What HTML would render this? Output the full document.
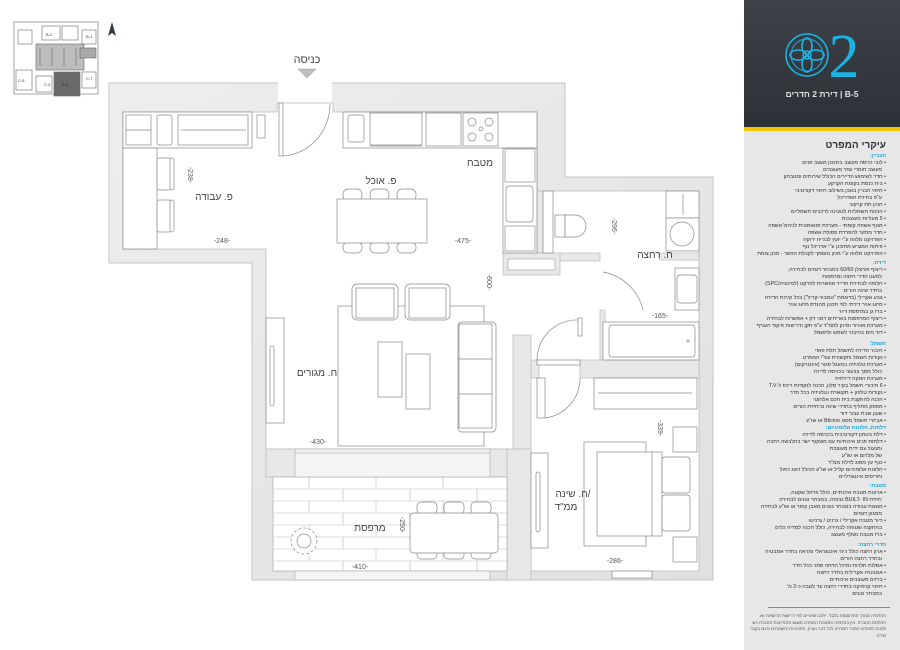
<!DOCTYPE html>
<html><head><meta charset="utf-8">
<style>
html,body{margin:0;padding:0;background:#fff;}
body{width:900px;height:650px;position:relative;overflow:hidden;font-family:"Liberation Sans","Noto Sans CJK SC",sans-serif;}
#panel{position:absolute;left:744px;top:0;width:156px;height:650px;background:#e7e7e8;}
#hdr{position:absolute;left:0;top:0;width:156px;height:127px;background:linear-gradient(180deg,#3d4248 0%,#2c3136 100%);}
#ybar{position:absolute;left:0;top:127px;width:156px;height:4px;background:#f4c400;}
.sec{position:absolute;right:14px;width:140px;direction:rtl;text-align:right;font-size:5.3px;line-height:7px;color:#333;white-space:nowrap;}
.h{color:#1aa3d6;font-weight:bold;}
.i{padding-right:4px;}
</style></head><body>
<svg width="744" height="650" style="position:absolute;left:0;top:0" xmlns="http://www.w3.org/2000/svg">
<defs>
<linearGradient id="wg" x1="0" y1="0" x2="1" y2="1"><stop offset="0" stop-color="#eeeeef"/><stop offset="1" stop-color="#e0e0e1"/></linearGradient>
</defs>
<!-- keyplan -->
<g stroke="#666" stroke-width="0.6" fill="#fff">
<rect x="14" y="22" width="84" height="72"/>
<rect x="36" y="44" width="48" height="26" fill="#bdbdbd"/>
<rect x="54" y="72" width="26" height="24" fill="#6a6a6a"/>
<rect x="80" y="48" width="16" height="10" fill="#aaa"/>
<rect x="18" y="30" width="14" height="14"/><rect x="42" y="26" width="18" height="14"/><rect x="62" y="26" width="16" height="14"/><rect x="82" y="30" width="14" height="14"/>
<rect x="16" y="70" width="16" height="20"/><rect x="36" y="76" width="16" height="16"/><rect x="82" y="72" width="14" height="16"/>
<line x1="40" y1="48" x2="40" y2="66"/><line x1="52" y1="48" x2="52" y2="66"/><line x1="64" y1="48" x2="64" y2="66"/><line x1="76" y1="48" x2="76" y2="66"/>
</g>
<g font-size="4" fill="#333"><text x="46" y="36">B-2</text><text x="86" y="38">B-1</text><text x="18" y="82">C-6</text><text x="44" y="86">C-5</text><text x="62" y="86">B-5</text><text x="86" y="80">C-7</text></g>
<polygon points="112,22 108,36 112,33 116,36" fill="#2e3a44"/>
<!-- entry -->
<text x="307" y="63" font-size="11" text-anchor="middle" fill="#444">כניסה</text>
<polygon points="298,69 316,69 307,78" fill="#bfbfbf" stroke="#999" stroke-width="0.5"/>
<!-- walls -->
<polygon points="109,83 565,83 565,177 713,177 713,580 252,580 252,263 109,263" fill="url(#wg)" stroke="#c4c4c4" stroke-width="1"/>
<rect x="278" y="80" width="54" height="24" fill="#fff"/>
<polygon points="123,112 277,112 277,103 333,103 333,112 537,112 537,191 699,191 699,571 531,571 531,449 266,449 266,249 123,249" fill="#fff" stroke="#bbb" stroke-width="0.8"/>
<g fill="#e8e8e9" stroke="#bbb" stroke-width="0.7">
<rect x="537" y="191" width="6" height="62"/>
<rect x="503" y="253" width="57" height="22"/>
<rect x="560" y="253" width="40" height="8"/>
<rect x="659" y="253" width="40" height="7"/>
<rect x="600" y="310" width="5" height="52"/>
<rect x="580" y="360" width="119" height="18"/>
<rect x="531" y="360" width="8" height="18"/>
<rect x="513" y="335" width="18" height="114"/>
<rect x="507" y="449" width="24" height="131"/>
<rect x="266" y="449" width="241" height="28"/>
</g>
<rect x="508" y="259" width="47" height="11" fill="#fff" stroke="#999" stroke-width="0.6"/>
<!-- balcony -->
<rect x="273" y="477" width="234" height="94" fill="#fff" stroke="#aaa" stroke-width="0.7"/>
<rect x="295" y="449" width="195" height="28" fill="#f4f4f4" stroke="#aaa" stroke-width="0.6"/>
<line x1="295" y1="453" x2="490" y2="453" stroke="#999" stroke-width="0.6"/>
<rect x="295" y="571" width="195" height="9" fill="#f4f4f4" stroke="#aaa" stroke-width="0.6"/>
<g stroke="#bbb" stroke-width="0.6">
<line x1="273" y1="489" x2="507" y2="489"/><line x1="273" y1="501" x2="507" y2="501"/><line x1="273" y1="513" x2="507" y2="513"/><line x1="273" y1="525" x2="507" y2="525"/><line x1="273" y1="537" x2="507" y2="537"/><line x1="273" y1="549" x2="507" y2="549"/><line x1="273" y1="561" x2="507" y2="561"/>
<line x1="309" y1="477" x2="309" y2="489"/><line x1="376" y1="477" x2="376" y2="489"/><line x1="443" y1="477" x2="443" y2="489"/>
<line x1="343" y1="489" x2="343" y2="501"/><line x1="410" y1="489" x2="410" y2="501"/><line x1="477" y1="489" x2="477" y2="501"/>
<line x1="309" y1="501" x2="309" y2="513"/><line x1="376" y1="501" x2="376" y2="513"/><line x1="443" y1="501" x2="443" y2="513"/>
<line x1="343" y1="513" x2="343" y2="525"/><line x1="410" y1="513" x2="410" y2="525"/>
<line x1="309" y1="525" x2="309" y2="537"/><line x1="376" y1="525" x2="376" y2="537"/>
<line x1="343" y1="537" x2="343" y2="549"/>
<line x1="309" y1="549" x2="309" y2="561"/><line x1="376" y1="549" x2="376" y2="561"/><line x1="443" y1="549" x2="443" y2="561"/>
<line x1="343" y1="561" x2="343" y2="571"/><line x1="410" y1="561" x2="410" y2="571"/><line x1="477" y1="561" x2="477" y2="571"/>
</g>
<g fill="#fff" stroke="#888" stroke-width="0.7">
<rect x="417" y="502" width="20" height="12" rx="4"/><rect x="444" y="502" width="20" height="12" rx="4"/><rect x="471" y="502" width="20" height="12" rx="4"/>
<rect x="417" y="547" width="20" height="12" rx="4"/><rect x="444" y="547" width="20" height="12" rx="4"/><rect x="471" y="547" width="20" height="12" rx="4"/>
<rect x="410" y="513" width="88" height="40" rx="4"/>
<circle cx="304" cy="541" r="13" stroke-dasharray="3 2"/>
<circle cx="304" cy="541" r="7"/>
<rect x="123" y="112" width="129" height="36"/>
<rect x="126" y="115" width="25" height="30"/><line x1="126" y1="130" x2="151" y2="130"/>
<rect x="157" y="115" width="15" height="30" rx="2"/>
<rect x="178" y="115" width="70" height="30"/><line x1="181" y1="130" x2="246" y2="130"/>
<rect x="257" y="115" width="8" height="23"/>
<rect x="123" y="148" width="34" height="101"/>
<rect x="157" y="158" width="14" height="32" rx="2"/><rect x="170" y="158" width="4" height="32" rx="2"/>
<rect x="157" y="200" width="14" height="32" rx="2"/><rect x="170" y="200" width="4" height="32" rx="2"/>
<rect x="279" y="103" width="4" height="53"/>
<path d="M283,156 A50,52 0 0 0 330,104" fill="none"/>
<rect x="343" y="112" width="194" height="36"/>
<rect x="348" y="115" width="16" height="27" rx="2"/>
<rect x="370" y="113" width="52" height="32"/><line x1="370" y1="146" x2="422" y2="146"/>
<rect x="426" y="113" width="35" height="33"/>
<rect x="463" y="113" width="35" height="33"/>
<circle cx="472" cy="122" r="4"/><circle cx="489" cy="122" r="4"/><circle cx="472" cy="137" r="4"/><circle cx="489" cy="137" r="4"/><circle cx="481" cy="129" r="2"/>
<rect x="503" y="148" width="34" height="105"/>
<rect x="505" y="149" width="30" height="33"/>
<rect x="506" y="186" width="27" height="36" rx="3"/>
<rect x="505" y="226" width="30" height="25"/>
<rect x="343" y="189" width="19" height="12" rx="5"/><rect x="370" y="189" width="19" height="12" rx="5"/><rect x="397" y="189" width="19" height="12" rx="5"/>
<rect x="343" y="242" width="19" height="11" rx="5"/><rect x="370" y="242" width="19" height="11" rx="5"/><rect x="397" y="242" width="19" height="11" rx="5"/>
<rect x="337" y="199" width="90" height="44"/>
<rect x="338" y="306" width="146" height="140"/>
<rect x="352" y="284" width="46" height="36" rx="5"/><rect x="356" y="288" width="38" height="30"/>
<rect x="405" y="284" width="45" height="36" rx="5"/><rect x="409" y="288" width="37" height="30"/>
<rect x="378" y="342" width="24" height="55"/><rect x="406" y="354" width="24" height="55"/>
<rect x="458" y="322" width="38" height="110" rx="4"/><rect x="459" y="324" width="33" height="104"/>
<line x1="459" y1="359" x2="492" y2="359"/><line x1="459" y1="394" x2="492" y2="394"/>
<rect x="266" y="318" width="18" height="105"/><rect x="270" y="346" width="4" height="60" rx="2"/>
<rect x="543" y="191" width="10" height="62"/>
<rect x="555" y="215" width="10" height="22"/>
<path d="M565,215 H575 A11,11 0 0 1 575,237 H565 Z"/>
<rect x="666" y="191" width="33" height="27"/><line x1="683" y1="194" x2="683" y2="215"/>
<rect x="666" y="218" width="33" height="33"/><circle cx="682" cy="234" r="12"/>
<rect x="675" y="268" width="24" height="42"/><rect x="677" y="275" width="20" height="28" rx="3"/>
<rect x="603" y="322" width="96" height="38"/><rect x="609" y="325" width="86" height="32" rx="3"/>
<circle cx="688" cy="341" r="1.2"/>
<path d="M603,272 A50,50 0 0 1 643,310" fill="none"/>
<rect x="537" y="360" width="43" height="5"/>
<path d="M537,360 A40,40 0 0 1 579,320" fill="none"/>
<rect x="578" y="318" width="4" height="18"/>
<rect x="537" y="378" width="8" height="40"/>
<path d="M545,418 A40,40 0 0 0 580,378" fill="none"/>
<rect x="594" y="378" width="103" height="31"/><line x1="598" y1="393" x2="692" y2="393"/>
<rect x="584" y="442" width="62" height="104"/>
<rect x="597" y="452" width="56" height="84"/>
<rect x="652" y="452" width="10" height="84"/>
<rect x="662" y="457" width="28" height="36" rx="3"/><rect x="662" y="495" width="28" height="36" rx="3"/>
<rect x="673" y="427" width="24" height="25"/><rect x="673" y="537" width="24" height="25"/>
<rect x="531" y="453" width="17" height="95"/><rect x="536" y="472" width="4" height="60" rx="2"/>
<rect x="612" y="571" width="40" height="7"/>
</g>
<g fill="#444" font-size="10" text-anchor="middle">
<text x="480" y="166">מטבח</text>
<text x="381" y="184">פ. אוכל</text>
<text x="214" y="200">פ. עבודה</text>
<text x="317" y="376">ח. מגורים</text>
<text x="655" y="258">ח. רחצה</text>
<text x="573" y="497">ח. שינה/</text>
<text x="566" y="510">ממ"ד</text>
<text x="370" y="531">מרפסת</text>
</g>
<g fill="#555" font-size="7" text-anchor="middle">
<text x="222" y="243">-248-</text>
<text x="463" y="243">-475-</text>
<text x="318" y="444">-430-</text>
<text x="660" y="318">-165-</text>
<text x="615" y="563">-286-</text>
<text x="360" y="569">-410-</text>
<text transform="translate(188,175) rotate(90)">-238-</text>
<text transform="translate(487,282) rotate(90)">-600-</text>
<text transform="translate(612,226) rotate(90)">-296-</text>
<text transform="translate(658,428) rotate(90)">-339-</text>
<text transform="translate(400,525) rotate(90)">-250-</text>
</g>
</svg>
<div id="panel">
<div id="hdr">
<svg width="156" height="127" style="position:absolute;left:0;top:0">
<g fill="none" stroke="#1ab3e6" stroke-width="1.6">
<circle cx="63" cy="55" r="21"/>
<circle cx="63" cy="55" r="16" stroke-width="1"/>
<ellipse cx="63" cy="46" rx="5" ry="8"/><ellipse cx="63" cy="64" rx="5" ry="8"/>
<ellipse cx="54" cy="55" rx="8" ry="5"/><ellipse cx="72" cy="55" rx="8" ry="5"/>
<circle cx="63" cy="55" r="4"/>
</g>
<text x="100" y="77" font-family="Liberation Serif,serif" font-size="62" fill="#1ab3e6" text-anchor="middle">2</text>
<text x="78" y="97" font-size="8.5" font-weight="bold" fill="#e0e0e0" text-anchor="middle" direction="rtl">B-5 | דירת 2 חדרים</text>
</svg>
</div>
<div id="ybar"></div>
<div style="position:absolute;right:14px;top:140px;direction:rtl;font-size:10px;font-weight:bold;color:#333">עיקרי המפרט</div>
<div class="sec" style="top:153px">
<div class="h">הבניין:</div>
<div>• לובי כניסה מעוצב בתכנון מעצב פנים</div>
<div class="i">מעוצב חומרי גמר מעוצבים</div>
<div>• חדר לשימוש הדיירים הכולל שירותים ומטבחון</div>
<div>• בית כנסת בקומת הקרקע</div>
<div>• חיפוי הבניין באבן בשילוב חיפוי דקורטיבי</div>
<div class="i">ע"פ בחירת האדריכל</div>
<div>• חניון תת קרקעי</div>
<div>• הכנות חשמליות לטעינה לרכבים חשמליים</div>
<div>• 5 מעליות מעוצבות</div>
<div>• מנוף אשפה קומתי - מערכת פנאומטית לניהול אשפה</div>
<div>• חדר מחזור להפרדת פסולת אשפה</div>
<div>• הפרויקט מלווה ע"י יועץ לבנייה ירוקה</div>
<div>• פיתוח המגרש מתוכנן ע"י אדריכל נוף</div>
<div>• הפרויקט מלווה ע"י מכון מוסמך לקבלת הכשר - מכון צומת</div>
</div>
<div class="sec" style="top:260px">
<div class="h">דירה:</div>
<div>• ריצוף פורצלן 60/60 במבחר דגמים לבחירה,</div>
<div class="i">למעט חדרי רחצה ומרפסות</div>
<div>• חלופה לבחירת הדייר אפשרות לפרקט (למינציה/SPC)</div>
<div class="i">בחדר שינה הורים</div>
<div>• צבע אקרילי (בדוגמת "טמבור-קריל") בכל קירות הדירה</div>
<div>• מיזוג אויר דירתי לפי תכנון מהנדס מיזוג אויר</div>
<div>• ברז גן במרפסת דיור</div>
<div>• ריצוף המרפסות באריחים דמוי דק + אפשרות לבחירה</div>
<div>• מערכת אוורור וסינון לממ"ד ע"פ תקן ודרישות פיקוד העורף</div>
<div>• דוד מים בחיבור לשמש ולחשמל</div>
</div>
<div class="sec" style="top:341px">
<div class="h">חשמל:</div>
<div>• חיבור הדירה לחשמל תלת פאזי</div>
<div>• נקודות חשמל ותקשורת עפ"י המפרט</div>
<div>• מערכת טלוויזיה במעגל סגור (אינטרקום)</div>
<div class="i">כולל מסך צבעוני בכניסה לדירה</div>
<div>• מערכת הסקה דירתית</div>
<div>• 6 חיבורי חשמל בקיר סלון, הכנה לנקודות ריכוז ל-T.V</div>
<div>• נקודות טלפון + תקשורת וטלוויזיה בכל חדר</div>
<div>• הכנה להתקנת בית חכם אלחוטי</div>
<div>• מפסק מחליף בחדרי שינה וביחידת הורים</div>
<div>• שעון שבת עבור דוד</div>
<div>• אביזרי חשמל מסוג Bticino או שו"ע</div>
</div>
<div class="sec" style="top:425px">
<div class="h">דלתות, חלונות אלומיניום:</div>
<div>• דלת בטחון דקורטיבית בכניסה לדירה</div>
<div>• דלתות פנים איכותיות עם משקוף ישר בהלבשה רחבה</div>
<div class="i">ומנעול עם ידית מעוצבת</div>
<div class="i">של מלרום או שו"ע</div>
<div>• כנף עץ מסוג לדלת ממ"ד</div>
<div>• חלונות אלומיניום קליל או שו"ע הכולל זיגוג כפול</div>
<div class="i">ותריסים אינטגרליים</div>
</div>
<div class="sec" style="top:483px">
<div class="h">מטבח:</div>
<div>• ארונות מטבח איכותיים, כולל פרזול שקטה,</div>
<div class="i">יחידת BUILT- IN גבוהה, במבחר גוונים לבחירה</div>
<div>• משטח עבודה במבחר גוונים מאבן קיסר או שו"ע לבחירה</div>
<div class="i">ממגוון דגמים</div>
<div>• כיור מטבח אקרילי / גרניט / גרניטו</div>
<div class="i">בהתקנה שטוחה לבחירה, כולל הכנה למדיח כלים</div>
<div>• ברז מטבח נשלף מעוצב</div>
</div>
<div class="sec" style="top:542px">
<div class="h">חדרי רחצה:</div>
<div>• ארון רחצה כולל כיור אינטגראלי ומראה בחדר אמבטיה</div>
<div class="i">ובחדר רחצה הורים</div>
<div>• אסלות תלויות ומיכל הדחה סמוי בכל חדר</div>
<div>• אמבטיה אקרילית בחדר רחצה</div>
<div>• ברזים מעוצבים איכותיים</div>
<div>• חיפוי קרמיקה בחדרי רחצה עד לגובה כ-2 מ'</div>
<div class="i">במבחר גוונים</div>
</div>
<div style="position:absolute;left:24px;top:607px;width:122px;height:1px;background:#888"></div>
<div class="sec" style="top:613px;font-size:4.4px;line-height:6.5px;color:#555;width:136px;white-space:normal">ההדמיה לצורך התרשמות בלבד. יתכנו שינויים לפי דרישות הרשויות ואו החלטת החברה. אין בהדמיה ותמונות המפרט משום התחייבות החברה ויש לפנות למפרט המכר המחייב לכל דבר ועניין, התוכניות והשטחים אינם בקנה מידה.</div>
</div>
</body></html>
